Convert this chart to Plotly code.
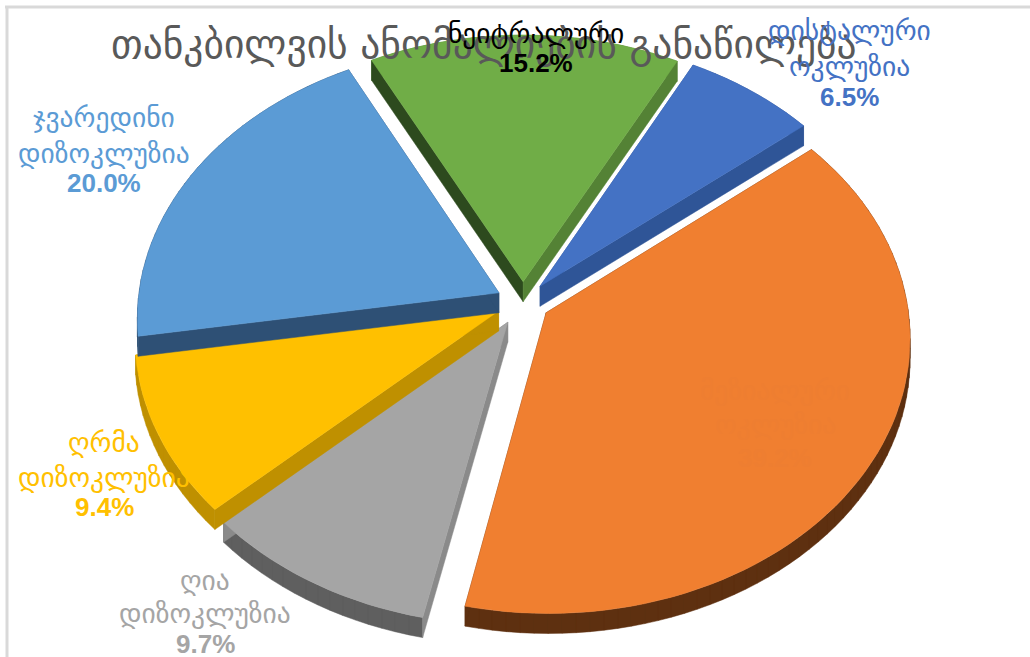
import math
import plotly.graph_objects as go

# --- data ---
categories = ["მეზიალური ოკლუზია", "ღია დიზოკლუზია", "ღრმა დიზოკლუზია",
              "ჯვარედინი დიზოკლუზია", "ნეიტრალური", "დისტალური ოკლუზია"]
values = [39.2, 9.7, 9.4, 20.0, 15.2, 6.5]
title_text = "თანკბილვის ანომალიების განაწილება"

# --- styles ---
face_colors = ["#F07F30", "#A5A5A5", "#FFC000", "#5B9BD5", "#70AD47", "#4472C4"]
arc_wall = ["#5E3010", "#5F5F5F", "#BF9000", "#2E5075", "#548235", "#2F5597"]
start_wall = ["#5E3010", "#8A8A8A", "#BF9000", "#2E5075", "#2D4A1E", "#2F5597"]
end_wall = ["#5E3010", "#8A8A8A", "#BF9000", "#2E5075", "#548235", "#2F5597"]
label_colors = ["#EE7E31", "#A5A5A5", "#FFC000", "#5B9BD5", "#000000", "#4472C4"]
label_x = [775, 205, 104, 104, 536, 849]
label_line_y = [[390, 424], [580, 613], [442, 477], [117, 153], [33], [30, 66]]
label_pct_y = [458, 644, 507, 183, 63, 97]
explode = [0.075, 0.085, 0.075, 0.075, 0.075, 0.075]
GEO = "DejaVu Sans"
ROTATION = 51.0
CX, CY, RX, RY, K, DEPTH = 523, 302, 361, 272, 0.089, 20


def project(u, v):
    w = 1 - K * v
    return CX + RX * u / w, CY + RY * v / w


def slice_outline(a0, a1, e):
    mid = math.radians((a0 + a1) / 2)
    ox, oy = e * math.sin(mid), -e * math.cos(mid)
    pts = [project(ox, oy)]
    steps = max(2, int((a1 - a0) / 2))
    for i in range(steps + 1):
        a = math.radians(a0 + (a1 - a0) * i / steps)
        pts.append(project(ox + math.sin(a), oy - math.cos(a)))
    return pts


fig = go.Figure()


def add_poly(xs, ys, color, name):
    fig.add_trace(go.Scatter(x=xs, y=ys, mode="lines", fill="toself", fillcolor=color,
                             line=dict(color=color, width=0.5), name=name,
                             hoverinfo="name", showlegend=False))


def add_wall(seg, color, name):
    xs, ys = [], []
    for (x0, y0), (x1, y1) in zip(seg[:-1], seg[1:]):
        xs += [x0, x1, x1, x0, x0, None]
        ys += [y0, y1, y1 + DEPTH, y0 + DEPTH, y0, None]
    add_poly(xs, ys, color, name)


total = sum(values)
spans = []
a = ROTATION
for v in values:
    spans.append((a, a + v / total * 360))
    a += v / total * 360

for i in [0, 1, 2, 3, 4, 5]:
    a0, a1 = spans[i]
    pts = slice_outline(a0, a1, explode[i])
    add_wall(pts[1:], arc_wall[i], categories[i])
    add_wall([pts[0], pts[1]], start_wall[i], categories[i])
    add_wall([pts[-1], pts[0]], end_wall[i], categories[i])
    add_poly([p[0] for p in pts] + [pts[0][0]], [p[1] for p in pts] + [pts[0][1]],
             face_colors[i], categories[i])

annotations = [dict(x=484, y=44, text=title_text, showarrow=False,
                    font=dict(family=GEO, size=39.5, color="#595959"))]
for i, cat in enumerate(categories):
    for word, y in zip(cat.split(), label_line_y[i]):
        annotations.append(dict(x=label_x[i], y=y, text=word, showarrow=False,
                                font=dict(family=GEO, size=27.5, color=label_colors[i])))
    annotations.append(dict(x=label_x[i], y=label_pct_y[i], text=f"<b>{values[i]:.1f}%</b>",
                            showarrow=False,
                            font=dict(family="Liberation Sans", size=26, color=label_colors[i])))

frame = dict(color="#D9D9D9", width=3)
fig.update_layout(
    width=1030, height=657, margin=dict(l=0, r=0, t=0, b=0),
    paper_bgcolor="white", plot_bgcolor="white", showlegend=False,
    xaxis=dict(range=[0, 1030], visible=False, fixedrange=True),
    yaxis=dict(range=[657, 0], visible=False, fixedrange=True),
    annotations=annotations,
    shapes=[dict(type="line", x0=7, x1=7, y0=7, y1=657, line=frame, layer="below"),
            dict(type="line", x0=5, x1=1030, y0=7, y1=7, line=frame, layer="below")],
)
fig.write_html("out.html", post_script="document.body.style.margin='0';",
               config={"displayModeBar": False})
